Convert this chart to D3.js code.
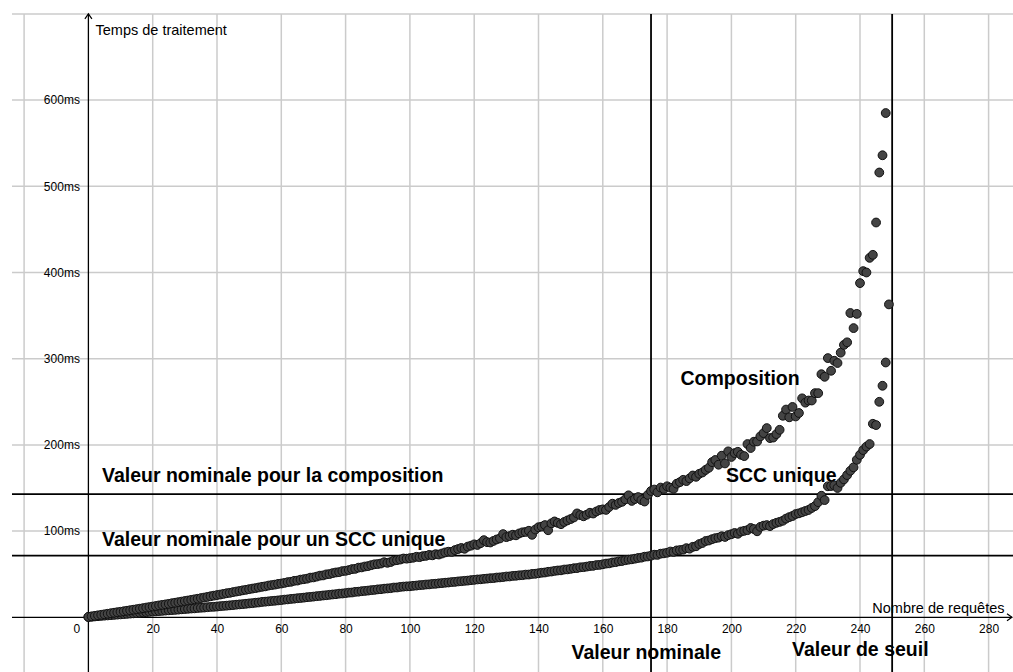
<!DOCTYPE html>
<html>
<head>
<meta charset="utf-8">
<script src="https://cdn.jsdelivr.net/npm/d3@7"></script>
<style>
  html, body { margin: 0; padding: 0; background: #fff; }
  svg { display: block; font-family: "Liberation Sans", Arial, sans-serif; }
</style>
</head>
<body>
<svg id="chart" width="1013" height="672"></svg>
<script>
// ---- data ----
const xTickValues = [0, 20, 40, 60, 80, 100, 120, 140, 160, 180, 200, 220, 240, 260, 280];
const xGridValues = [-20, 20, 40, 60, 80, 100, 120, 140, 160, 180, 200, 220, 240, 260, 280];
const yTickValues = [100, 200, 300, 400, 500, 600];
const yGridValues = [100, 200, 300, 400, 500, 600, 700];

const nominalRequests = 175;
const thresholdRequests = 250;
const nominalComposition = 143;
const nominalScc = 71.5;

// processing time (ms) for request count = index
const compositionTimes = [
  0.5, 1.1, 1.7, 2.3, 2.9, 3.5, 4.1, 4.7, 5.3, 5.9,
  6.4, 7.0, 7.6, 8.2, 8.8, 9.4, 10.0, 10.6, 11.3, 11.9,
  12.5, 13.1, 13.8, 14.4, 15.0, 15.6, 16.3, 16.9, 17.6, 18.2,
  18.9, 19.5, 20.2, 20.9, 21.5, 22.3, 22.9, 23.6, 24.4, 25.1,
  25.8, 26.4, 27.1, 27.9, 28.4, 29.2, 29.9, 30.5, 31.3, 31.9,
  32.6, 33.3, 33.9, 34.6, 35.4, 35.9, 36.8, 37.4, 37.9, 38.7,
  39.2, 39.9, 40.8, 41.2, 42.3, 42.6, 43.7, 44.2, 44.8, 46.0,
  46.3, 47.2, 48.3, 48.6, 49.8, 50.2, 51.3, 52.0, 52.4, 53.6,
  53.9, 54.8, 55.9, 56.2, 57.6, 57.9, 58.9, 59.4, 60.5, 61.5,
  61.8, 62.4, 63.9, 63.2, 64.1, 65.8, 66.3, 67.0, 68.2, 68.0,
  68.6, 69.1, 70.2, 69.8, 70.9, 71.3, 72.4, 71.9, 73.2, 72.8,
  74.0, 75.3, 76.1, 75.8, 78.0, 79.2, 80.4, 79.5, 82.0, 83.1,
  84.6, 83.9, 86.0, 89.5, 87.2, 86.8, 88.6, 90.3, 91.5, 96.5,
  93.0, 94.2, 95.8, 95.1, 97.3, 98.6, 99.0, 100.4, 95.7, 101.8,
  104.5, 105.2, 107.0, 101.0, 109.0, 111.2, 109.5, 108.0, 110.6, 112.4,
  114.0, 115.8, 120.5, 118.6, 117.2, 119.0, 121.3, 120.4, 122.8, 124.5,
  125.2, 124.6, 128.0, 131.8, 130.4, 132.6, 134.0, 136.8, 141.5, 135.0,
  137.2, 139.5, 136.0, 134.3, 142.0, 146.5, 148.2, 145.0, 150.5, 149.0,
  152.0, 150.4, 149.0, 155.0, 156.8, 159.5, 158.0, 161.2, 164.5, 163.0,
  166.5, 168.0, 171.0, 173.5, 180.0, 182.5, 177.0, 187.5, 178.5, 192.5,
  186.0, 190.5, 192.0, 188.5, 187.0, 201.0, 196.4, 203.7, 204.0, 209.9,
  213.7, 219.5, 207.9, 208.5, 212.5, 217.5, 233.8, 241.0, 232.0, 244.0,
  233.0, 237.0, 254.0, 249.0, 251.5, 251.5, 260.0, 260.0, 282.0, 279.0,
  300.7, 286.0, 297.6, 295.0, 307.0, 316.0, 319.0, 353.0, 335.5, 352.0,
  387.7, 401.6, 400.0, 417.0, 420.5, 458.0, 516.0, 536.0, 585.0
];

const sccTimes = [
  0.3, 0.6, 1.0, 1.3, 1.6, 1.9, 2.2, 2.5, 2.8, 3.1,
  3.4, 3.7, 4.0, 4.3, 4.6, 4.9, 5.2, 5.6, 5.9, 6.3,
  6.6, 6.9, 7.2, 7.5, 7.8, 8.1, 8.4, 8.6, 8.9, 9.3,
  9.6, 9.9, 10.2, 10.4, 10.8, 11.1, 11.3, 11.7, 12.0, 12.2,
  12.5, 12.9, 13.2, 13.5, 13.9, 14.2, 14.6, 15.0, 15.3, 15.7,
  16.1, 16.4, 16.9, 17.2, 17.8, 18.1, 18.5, 18.9, 19.2, 19.6,
  20.0, 20.5, 20.8, 21.3, 21.6, 22.1, 22.4, 22.8, 23.3, 23.6,
  24.0, 24.5, 24.8, 25.3, 25.6, 26.1, 26.5, 26.8, 27.4, 27.6,
  28.1, 28.6, 28.8, 29.5, 29.7, 30.3, 30.6, 31.0, 31.5, 31.8,
  32.4, 32.6, 33.2, 33.5, 33.8, 34.5, 34.6, 35.2, 35.6, 35.9,
  36.0, 36.5, 36.8, 37.3, 37.5, 38.0, 38.2, 38.7, 38.9, 39.4,
  39.7, 40.1, 40.4, 40.9, 41.1, 41.6, 41.9, 42.3, 42.6, 43.1,
  43.4, 43.9, 44.1, 44.6, 44.9, 45.3, 45.5, 46.1, 46.3, 46.7,
  47.3, 47.4, 48.0, 48.2, 48.7, 48.9, 49.5, 49.6, 50.3, 50.5,
  51.1, 51.7, 52.0, 52.8, 53.1, 53.8, 54.3, 54.5, 55.4, 55.6,
  56.2, 56.9, 57.1, 58.0, 58.2, 58.8, 59.5, 59.7, 60.6, 60.8,
  61.5, 62.3, 62.6, 63.6, 64.0, 64.9, 65.3, 66.2, 66.8, 67.3,
  68.0, 68.8, 69.2, 70.3, 70.6, 71.5, 72.6, 72.4, 73.8, 74.2,
  74.9, 76.3, 75.8, 77.6, 78.0, 78.5, 80.2, 79.6, 81.8, 82.4,
  85.0, 86.2, 88.5, 89.1, 90.6, 91.8, 92.4, 94.0, 93.2, 95.3,
  96.4, 97.8, 96.9, 99.5, 100.3, 101.1, 103.6, 102.4, 99.8, 104.9,
  106.3, 107.0, 105.8, 108.2, 109.6, 110.7, 112.0, 114.5, 116.2, 117.5,
  119.8, 120.6, 121.9, 123.3, 124.5, 126.9, 129.0, 133.6, 141.0, 136.0,
  152.0, 152.3, 153.0, 150.0, 156.0, 160.0, 165.0, 170.0, 174.0, 182.7,
  188.5, 194.0, 198.0, 201.0, 224.5, 223.0, 250.0, 268.6, 295.6, 363.0
];

// ---- drawing ----
const W = 1013, H = 672;
const svg = d3.select("#chart");
const x = d3.scaleLinear().domain([0, 280]).range([88.4, 988.6]);
const y = d3.scaleLinear().domain([0, 700]).range([617.3, 13.9]);
const gridLeft = 12, gridTop = y(700);

// grid
const gridColor = "#cbcbcb";
svg.append("g").selectAll("line").data(xGridValues).join("line")
  .attr("x1", d => x(d)).attr("x2", d => x(d))
  .attr("y1", gridTop).attr("y2", H)
  .attr("stroke", gridColor).attr("stroke-width", 1.5);
svg.append("g").selectAll("line").data(yGridValues).join("line")
  .attr("x1", gridLeft).attr("x2", W)
  .attr("y1", d => y(d)).attr("y2", d => y(d))
  .attr("stroke", gridColor).attr("stroke-width", 1.5);

// tick labels via d3 axes
const xAxis = svg.append("g")
  .attr("transform", `translate(0,${y(0)})`)
  .call(d3.axisBottom(x).tickValues(xTickValues).tickSize(0).tickPadding(7).tickFormat(d3.format("d")));
xAxis.select(".domain").remove();
xAxis.selectAll("text").attr("font-size", 12).attr("font-family", "Liberation Sans, Arial, sans-serif").attr("fill", "#000");
xAxis.selectAll(".tick").filter(d => d === 0).select("text").attr("dx", -12);

const yAxis = svg.append("g")
  .attr("transform", `translate(${x(0)},0)`)
  .call(d3.axisLeft(y).tickValues(yTickValues).tickSize(0).tickPadding(8.5).tickFormat(d => d + "ms"));
yAxis.select(".domain").remove();
yAxis.selectAll("text").attr("font-size", 12).attr("font-family", "Liberation Sans, Arial, sans-serif").attr("fill", "#000");

// axis titles
svg.append("text").attr("x", 95.5).attr("y", 35).attr("font-size", 14.5).text("Temps de traitement");
svg.append("text").attr("x", 1004.5).attr("y", 612.5).attr("text-anchor", "end").attr("font-size", 14.5).text("Nombre de requêtes");

// annotation labels
const bold = (t, px, py) => svg.append("text").attr("x", px).attr("y", py)
  .attr("font-size", 19.5).attr("font-weight", "bold").text(t);
bold("Valeur nominale pour la composition", 102, 482);
bold("Valeur nominale pour un SCC unique", 102, 546);
bold("Composition", 680.5, 385);
bold("SCC unique", 726, 482);
bold("Valeur nominale", 571.5, 658.5);
bold("Valeur de seuil", 792, 656);

// axes
svg.append("line").attr("x1", gridLeft).attr("x2", W - 1).attr("y1", y(0)).attr("y2", y(0))
  .attr("stroke", "#000").attr("stroke-width", 1.3);
svg.append("line").attr("x1", x(0)).attr("x2", x(0)).attr("y1", gridTop).attr("y2", H)
  .attr("stroke", "#000").attr("stroke-width", 1.3);
svg.append("path")
  .attr("d", `M${x(0) - 3.5},${gridTop + 5} L${x(0)},${gridTop} L${x(0) + 3.5},${gridTop + 5}`)
  .attr("fill", "none").attr("stroke", "#000").attr("stroke-width", 1.2);
svg.append("path")
  .attr("d", `M${W - 6},${y(0) - 3.5} L${W - 1},${y(0)} L${W - 6},${y(0) + 3.5}`)
  .attr("fill", "none").attr("stroke", "#000").attr("stroke-width", 1.2);

// reference lines
[nominalRequests, thresholdRequests].forEach(v => {
  svg.append("line").attr("x1", x(v)).attr("x2", x(v)).attr("y1", gridTop).attr("y2", H)
    .attr("stroke", "#000").attr("stroke-width", 1.8);
});
[nominalComposition, nominalScc].forEach(v => {
  svg.append("line").attr("x1", gridLeft).attr("x2", W).attr("y1", y(v)).attr("y2", y(v))
    .attr("stroke", "#000").attr("stroke-width", 1.8);
});

// points
const drawSeries = (vals) => svg.append("g").selectAll("circle").data(vals).join("circle")
  .attr("cx", (d, i) => x(i)).attr("cy", d => y(d)).attr("r", 4.4)
  .attr("fill", "#444").attr("stroke", "#111").attr("stroke-width", 1);
drawSeries(sccTimes);
drawSeries(compositionTimes);
</script>
</body>
</html>
